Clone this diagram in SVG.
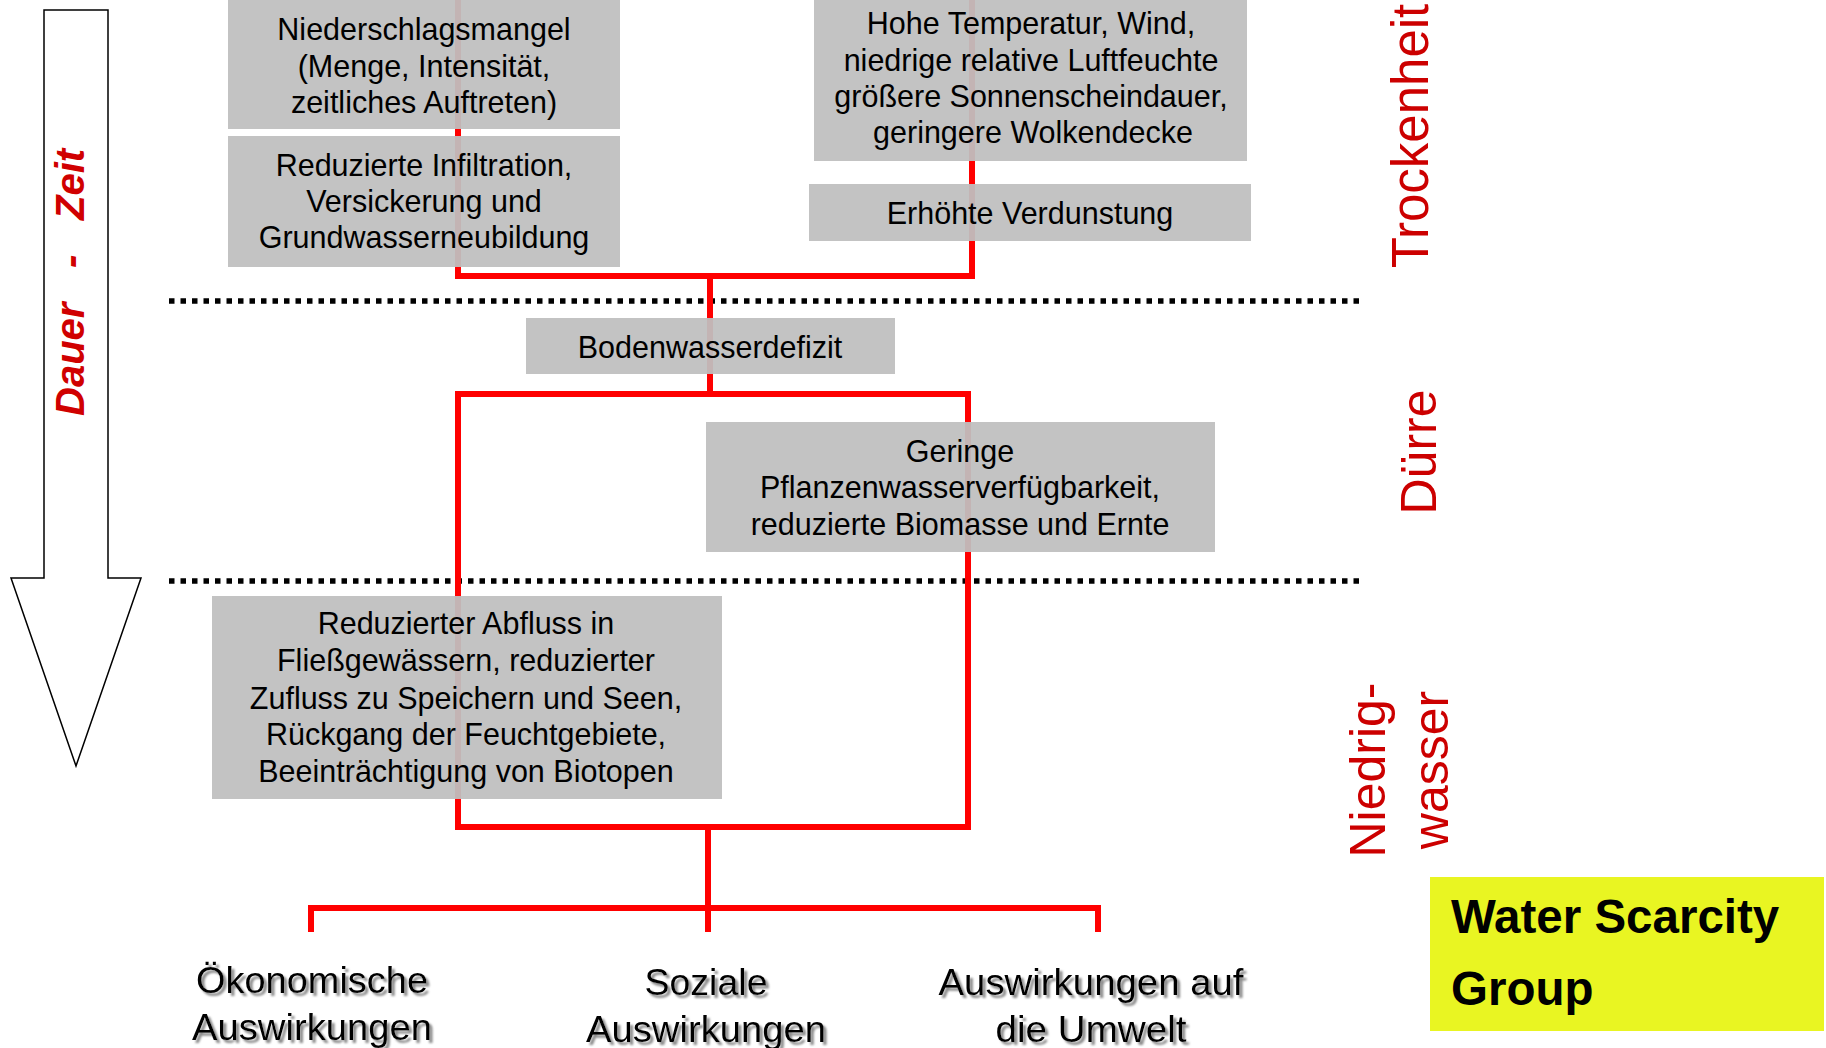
<svg xmlns="http://www.w3.org/2000/svg" width="1826" height="1048" viewBox="0 0 1826 1048">
<defs>
<style>
.box{fill:#bfbfbf;fill-opacity:0.94}
.bt{font-family:"Liberation Sans",Arial,sans-serif;font-size:30.5px;fill:#000;text-anchor:middle}
.conn{fill:none;stroke:#ff0000;stroke-width:6}
.dot{stroke:#000;stroke-width:5.5;stroke-dasharray:5.5 6}
.lab{font-family:"Liberation Sans",Arial,sans-serif;font-size:50px;fill:#cc0000;text-anchor:middle}
.imp{font-family:"Liberation Sans",Arial,sans-serif;font-size:36px;fill:#000;text-anchor:middle;filter:url(#sh)}
</style>
<filter id="sh" x="-10%" y="-30%" width="120%" height="160%">
<feGaussianBlur in="SourceAlpha" stdDeviation="0.8" result="b"/>
<feOffset in="b" dx="2.5" dy="2.5" result="o"/>
<feFlood flood-color="#8a8a8a"/>
<feComposite in2="o" operator="in" result="s"/>
<feMerge><feMergeNode in="s"/><feMergeNode in="SourceGraphic"/></feMerge>
</filter>
</defs>
<rect width="1826" height="1048" fill="#fff"/>

<g id="time-arrow">
<polygon points="44,10 108,10 108,578 141,578 76,766 11,578 44,578" fill="#fff" stroke="#000" stroke-width="1.5"/>
<text transform="translate(84,0) rotate(-90)" font-family="Liberation Sans,Arial,sans-serif" font-size="40" font-weight="bold" font-style="italic" fill="#d00000"><tspan x="-416">Dauer</tspan><tspan x="-268">-</tspan><tspan x="-220">Zeit</tspan></text>
</g>

<g id="separators">
<line class="dot" x1="169" y1="301" x2="1359" y2="301"/>
<line class="dot" x1="169" y1="581" x2="1359" y2="581"/>
</g>

<g id="connectors">
<path class="conn" d="M458,0 V276 H972 V0"/>
<path class="conn" d="M710,276 V394"/>
<path class="conn" d="M458,394 V827 H968 V394 Z"/>
<path class="conn" d="M708,827 V932"/>
<path class="conn" d="M311,932 V908 H1098 V932"/>
</g>

<g id="n-niederschlag">
<rect class="box" x="228" y="0" width="392" height="129"/>
<text class="bt" x="424" y="40">Niederschlagsmangel</text>
<text class="bt" x="424" y="77">(Menge, Intensität,</text>
<text class="bt" x="424" y="113">zeitliches Auftreten)</text>
</g>

<g id="n-infiltration">
<rect class="box" x="228" y="136" width="392" height="131"/>
<text class="bt" x="424" y="176">Reduzierte Infiltration,</text>
<text class="bt" x="424" y="212">Versickerung und</text>
<text class="bt" x="424" y="248">Grundwasserneubildung</text>
</g>

<g id="n-temperatur">
<rect class="box" x="814" y="0" width="433" height="161"/>
<text class="bt" x="1031" y="34">Hohe Temperatur, Wind,</text>
<text class="bt" x="1031" y="71">niedrige relative Luftfeuchte</text>
<text class="bt" x="1031" y="107">größere Sonnenscheindauer,</text>
<text class="bt" x="1033" y="143">geringere Wolkendecke</text>
</g>

<g id="n-verdunstung">
<rect class="box" x="809" y="184" width="442" height="57"/>
<text class="bt" x="1030" y="224">Erhöhte Verdunstung</text>
</g>

<g id="n-bodenwasser">
<rect class="box" x="526" y="318" width="369" height="56"/>
<text class="bt" x="710" y="358">Bodenwasserdefizit</text>
</g>

<g id="n-pflanzen">
<rect class="box" x="706" y="422" width="509" height="130"/>
<text class="bt" x="960" y="462">Geringe</text>
<text class="bt" x="960" y="498">Pflanzenwasserverfügbarkeit,</text>
<text class="bt" x="960" y="535">reduzierte Biomasse und Ernte</text>
</g>

<g id="n-abfluss">
<rect class="box" x="212" y="596" width="510" height="203"/>
<text class="bt" x="466" y="634">Reduzierter Abfluss in</text>
<text class="bt" x="466" y="671">Fließgewässern, reduzierter</text>
<text class="bt" x="466" y="709">Zufluss zu Speichern und Seen,</text>
<text class="bt" x="466" y="745">Rückgang der Feuchtgebiete,</text>
<text class="bt" x="466" y="782">Beeinträchtigung von Biotopen</text>
</g>

<g id="n-oekonomisch">
<text class="imp" x="312" y="993" textLength="232" lengthAdjust="spacingAndGlyphs">Ökonomische</text>
<text class="imp" x="312" y="1040" textLength="240" lengthAdjust="spacingAndGlyphs">Auswirkungen</text>
</g>
<g id="n-sozial">
<text class="imp" x="706" y="995" textLength="123" lengthAdjust="spacingAndGlyphs">Soziale</text>
<text class="imp" x="706" y="1042" textLength="240" lengthAdjust="spacingAndGlyphs">Auswirkungen</text>
</g>
<g id="n-umwelt">
<text class="imp" x="1091" y="995" textLength="305" lengthAdjust="spacingAndGlyphs">Auswirkungen auf</text>
<text class="imp" x="1091" y="1042" textLength="191" lengthAdjust="spacingAndGlyphs">die Umwelt</text>
</g>

<g id="phase-labels">
<text class="lab" style="font-size:51px" transform="translate(1428,136) rotate(-90)">Trockenheit</text>
<text class="lab" transform="translate(1436,452) rotate(-90)">Dürre</text>
<text class="lab" transform="translate(1385,770) rotate(-90)">Niedrig-</text>
<text class="lab" transform="translate(1448,770) rotate(-90)">wasser</text>
</g>

<g id="wsg-logo">
<rect x="1430" y="877" width="394" height="154" fill="#e9f522"/>
<text x="1451" y="933" font-family="Liberation Sans,Arial,sans-serif" font-size="47.5" font-weight="bold" fill="#000">Water Scarcity</text>
<text x="1451" y="1005" font-family="Liberation Sans,Arial,sans-serif" font-size="47.5" font-weight="bold" fill="#000">Group</text>
</g>
</svg>
